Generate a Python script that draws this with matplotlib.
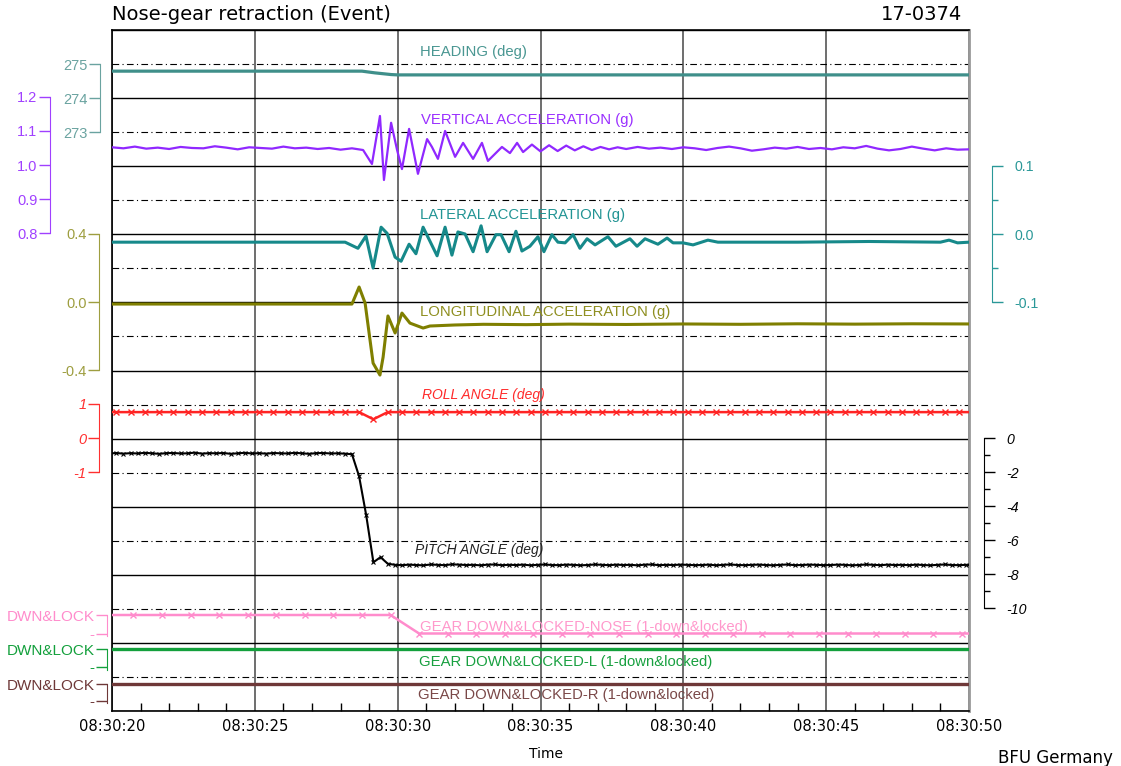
import matplotlib.pyplot as plt
import matplotlib.ticker as mticker
import numpy as np

plt.rcParams['axes.unicode_minus'] = False

# ── data: time in seconds after 08:30:20 ─────────────────────────────────────
hdg_t = [0.0, 8.75, 9.2, 9.77, 10.0, 30.0]
hdg_v = [274.79, 274.79, 274.74, 274.69, 274.68, 274.68]

vac_t = [0.0, 0.4, 0.8, 1.2, 1.6, 2.0, 2.4, 2.8, 3.2, 3.6, 4.0, 4.4, 4.8, 5.2, 5.6,
         6.0, 6.4, 6.8, 7.2, 7.6, 8.0, 8.4, 8.79,
         9.10, 9.38, 9.52, 9.77, 9.98, 10.15, 10.40, 10.71, 11.03, 11.20, 11.41,
         11.66, 12.01, 12.29, 12.64, 12.95, 13.16, 13.65, 13.93, 14.18, 14.39,
         14.7, 15.0, 15.3, 15.6, 15.9, 16.2, 16.5, 16.8, 17.1, 17.4, 17.7, 18.0,
         18.4, 18.8, 19.2, 19.6, 20.0, 20.4, 20.8, 21.2, 21.6, 22.0, 22.4, 22.8,
         23.2, 23.6, 24.0, 24.4, 24.8, 25.2, 25.6, 26.0, 26.4, 26.8, 27.2, 27.6,
         28.0, 28.4, 28.8, 29.2, 29.6, 30.0]
vac_v = [1.052, 1.049, 1.054, 1.048, 1.051, 1.047, 1.053, 1.050, 1.049, 1.055, 1.051,
         1.046, 1.052, 1.050, 1.048, 1.054, 1.049, 1.051, 1.047, 1.050, 1.045, 1.049, 1.044,
         1.003, 1.144, 0.956, 1.124, 1.044, 0.988, 1.106, 0.974, 1.076, 1.053, 1.018,
         1.100, 1.024, 1.065, 1.018, 1.065, 1.012, 1.053, 1.035, 1.065, 1.038,
         1.060, 1.040, 1.058, 1.041, 1.057, 1.043, 1.055, 1.044, 1.053, 1.046, 1.052, 1.047,
         1.053, 1.048, 1.051, 1.047, 1.052, 1.049, 1.044, 1.050, 1.054, 1.049, 1.042, 1.046,
         1.051, 1.048, 1.053, 1.047, 1.050, 1.046, 1.052, 1.049, 1.056, 1.048, 1.043, 1.047,
         1.054, 1.048, 1.043, 1.049, 1.045, 1.046]

lat_t = [0.0, 8.16, 8.61, 8.89, 9.14, 9.42, 9.63, 9.91, 10.12, 10.40, 10.64, 10.89,
         11.38, 11.66, 11.90, 12.11, 12.36, 12.64, 12.92, 13.13, 13.44, 13.62, 13.90,
         14.14, 14.35, 14.63, 14.91, 15.12, 15.40, 15.61, 15.86, 16.14, 16.38, 16.63,
         16.91, 17.36, 17.64, 18.13, 18.38, 18.66, 19.11, 19.43, 19.64, 19.99, 20.34,
         20.86, 21.21, 21.63, 24.0, 26.5, 29.0, 29.3, 29.6, 30.0]
lat_v = [-0.012, -0.012, -0.021, -0.003, -0.050, 0.010, 0.001, -0.034, -0.040, -0.015,
         -0.029, 0.010, -0.032, 0.010, -0.031, 0.003, 0.000, -0.026, 0.012, -0.026,
         -0.001, -0.001, -0.026, 0.004, -0.025, -0.018, -0.004, -0.026, -0.001, -0.012,
         -0.013, -0.001, -0.021, -0.007, -0.016, -0.004, -0.018, -0.007, -0.018, -0.007,
         -0.015, -0.006, -0.013, -0.013, -0.016, -0.009, -0.012, -0.012, -0.012, -0.011,
         -0.012, -0.009, -0.013, -0.012]

lon_t = [0.0, 8.40, 8.65, 8.86, 9.14, 9.38, 9.49, 9.66, 9.91, 10.15, 10.43, 10.89,
         11.13, 12.0, 13.0, 14.5, 16.0, 18.0, 20.0, 22.0, 24.0, 26.0, 28.0, 30.0]
lon_v = [-0.012, -0.012, 0.088, -0.006, -0.359, -0.429, -0.324, -0.082, -0.182,
         -0.065, -0.124, -0.153, -0.141, -0.135, -0.131, -0.133, -0.130, -0.132,
         -0.129, -0.131, -0.128, -0.130, -0.128, -0.129]

# roll sampled at 2 Hz (plus the two frame edges)
roll_t = [0.0] + list(np.arange(0.15, 30, 0.5)) + [30.0]
roll_v = [0.76, 0.76, 0.76, 0.76, 0.76, 0.76, 0.76, 0.76, 0.76, 0.76,
          0.76, 0.76, 0.76, 0.76, 0.76, 0.76, 0.76, 0.76, 0.76, 0.55,
          0.76, 0.76, 0.76, 0.76, 0.76, 0.76, 0.76, 0.76, 0.76, 0.76,
          0.76, 0.76, 0.76, 0.76, 0.76, 0.76, 0.76, 0.76, 0.76, 0.76,
          0.76, 0.76, 0.76, 0.76, 0.76, 0.76, 0.76, 0.76, 0.76, 0.76,
          0.76, 0.76, 0.76, 0.76, 0.76, 0.76, 0.76, 0.76, 0.76, 0.76,
          0.76, 0.76]

# pitch sampled at 4 Hz (plus the two frame edges)
pit_t = [0.0] + list(np.arange(0.15, 30, 0.25)) + [30.0]
pit_v = [-0.90,
         -0.88, -0.92, -0.89, -0.91, -0.87, -0.90, -0.93, -0.89, -0.88, -0.91,
         -0.90, -0.86, -0.92, -0.89, -0.90, -0.88, -0.93, -0.90, -0.87, -0.91,
         -0.89, -0.92, -0.88, -0.90, -0.91, -0.87, -0.90, -0.93, -0.89, -0.88,
         -0.91, -0.90, -0.92,
         -0.95, -2.25, -4.55, -7.30, -7.00, -7.38, -7.45,
         -7.47, -7.44, -7.46, -7.48, -7.43, -7.45, -7.47, -7.42, -7.44, -7.46,
         -7.45, -7.48, -7.44, -7.43, -7.47, -7.45, -7.46, -7.44, -7.48, -7.45,
         -7.43, -7.46, -7.47, -7.44, -7.45, -7.48, -7.46, -7.43, -7.45, -7.47,
         -7.44, -7.46, -7.45, -7.48, -7.44, -7.43, -7.47, -7.45, -7.46, -7.44,
         -7.45, -7.47, -7.46, -7.44, -7.48, -7.45, -7.43, -7.46, -7.47, -7.45,
         -7.44, -7.46, -7.48, -7.45, -7.43, -7.47, -7.46, -7.44, -7.45, -7.47,
         -7.46, -7.44, -7.45, -7.48, -7.46, -7.43, -7.45, -7.47, -7.44, -7.46,
         -7.45, -7.47, -7.44, -7.46, -7.48, -7.45, -7.43, -7.46, -7.47, -7.45,
         -7.46]

# nose gear discrete sampled at 1 Hz
gn_t = [0.0] + list(np.arange(0.75, 30, 1.0)) + [30.0]
gn_v = [1, 1, 1, 1, 1, 1, 1, 1, 1, 1, 1,
        0, 0, 0, 0, 0, 0, 0, 0, 0, 0, 0, 0, 0, 0, 0, 0, 0, 0, 0, 0, 0]
gl_t = [0.0, 30.0]
gl_v = [1, 1]
gr_t = [0.0, 30.0]
gr_v = [1, 1]

# ── layout ───────────────────────────────────────────────────────────────────
W, H, DPI = 1121, 766, 100
X0, X1, Y0, Y1 = 112, 969, 30, 711
BAND = (Y1 - Y0) / 20.0          # one grid band in pixels
PT = 72.0 / DPI                  # pixels -> points

fig = plt.figure(figsize=(W / DPI, H / DPI), dpi=DPI)
rect = [X0 / W, 1 - Y1 / H, (X1 - X0) / W, (Y1 - Y0) / H]

base = fig.add_axes(rect)
base.set_xlim(0, 30)
base.set_ylim(20, 0)
base.xaxis.set_major_locator(mticker.MultipleLocator(5))
base.xaxis.set_minor_locator(mticker.MultipleLocator(1))
base.xaxis.set_major_formatter(mticker.FuncFormatter(lambda x, p: f"08:30:{20 + int(round(x)):02d}"))
base.yaxis.set_major_locator(mticker.MultipleLocator(2))
base.yaxis.set_minor_locator(mticker.MultipleLocator(1))
base.tick_params(axis='y', which='both', left=False, labelleft=False)
base.tick_params(axis='x', which='both', direction='in', top=False)
base.tick_params(axis='x', which='major', length=0, pad=6, labelsize=10.6)
base.tick_params(axis='x', which='minor', length=8 * PT, width=1, color='black')
base.grid(True, which='major', axis='y', color='black', lw=1, ls='-')
base.grid(True, which='minor', axis='y', color='black', lw=0.8, ls=(0, (6, 3, 1, 3)))
base.grid(True, which='major', axis='x', color='#555555', lw=1.2)
for s in ('left', 'top', 'bottom'):
    base.spines[s].set_color('black')
    base.spines[s].set_linewidth(1.2)
base.spines['right'].set_color('#999999')
base.spines['right'].set_linewidth(2)


def u_of(y):
    return (y - Y0) / BAND


def param_axes(v_ref, y_ref, per_band, side, spine_x, bounds, ticks, color,
               labels=None, minor=None, italic=False, fmt=None, size=10.5):
    ax = fig.add_axes(rect, sharex=base)
    ax.patch.set_visible(False)
    u_ref = u_of(y_ref)
    ax.set_ylim(v_ref - (20 - u_ref) * per_band, v_ref + u_ref * per_band)
    ax.tick_params(axis='x', which='both', bottom=False, labelbottom=False)
    for s in ax.spines.values():
        s.set_visible(False)
    sp = ax.spines[side]
    sp.set_visible(True)
    off = (X0 - spine_x) if side == 'left' else (spine_x - X1)
    sp.set_position(('outward', off * PT))
    sp.set_bounds(*bounds)
    sp.set_color(color)
    ax.yaxis.set_ticks_position(side)
    ax.set_yticks(ticks)
    if labels is not None:
        ax.set_yticklabels(labels)
    elif fmt is not None:
        ax.yaxis.set_major_formatter(mticker.FormatStrFormatter(fmt))
    if minor is not None:
        ax.set_yticks(minor, minor=True)
    pad = 1 if side == 'left' else 8
    ax.tick_params(axis='y', which='major', length=11 * PT, width=1, color=color,
                   labelcolor=color, labelsize=size, pad=pad)
    ax.tick_params(axis='y', which='minor', length=6 * PT, width=1, color=color)
    for lab in ax.get_yticklabels():
        lab.set_family('Liberation Sans')
        if italic:
            lab.set_style('italic')
    return ax


c_hdg, c_vac, c_lat, c_lon = '#3f8f8a', '#9028ff', '#16898a', '#7f7f00'
c_roll, c_pit, c_gn, c_gl, c_gr = '#ff2424', '#000000', '#ff8ccc', '#13a03c', '#6e3838'

ax_h = param_axes(275, 64, 1.0, 'left', 100, (273, 275), [273, 274, 275], '#6aa3a0')
ax_h.plot(hdg_t, hdg_v, color=c_hdg, lw=2.3)

ax_v = param_axes(1.0, 165, 0.1, 'left', 50, (0.8, 1.2), [0.8, 0.9, 1.0, 1.1, 1.2],
                  '#a040ff', fmt='%.1f')
ax_v.plot(vac_t, vac_v, color=c_vac, lw=1.6)

ax_l = param_axes(0.0, 234, 0.05, 'right', 992, (-0.1, 0.1), [-0.1, 0.0, 0.1], '#2a9898',
                  minor=[-0.05, 0.05], fmt='%.1f', size=10.2)
ax_l.plot(lat_t, lat_v, color=c_lat, lw=2.2)

ax_g = param_axes(0.0, 302, 0.2, 'left', 99, (-0.4, 0.4), [-0.4, 0.0, 0.4], '#9e9e40',
                  fmt='%.1f')
ax_g.plot(lon_t, lon_v, color=c_lon, lw=2.2)

ax_r = param_axes(0, 438, 1.0, 'left', 99, (-1, 1), [-1, 0, 1], '#ff3030', italic=True)
ax_r.plot(roll_t, roll_v, color=c_roll, lw=1.8, marker='x', ms=4.5, mew=1,
          markevery=slice(1, -1))

ax_p = param_axes(0, 438, 2.0, 'right', 984, (-10, 0), [-10, -8, -6, -4, -2, 0], 'black',
                  minor=[-9, -7, -5, -3, -1], italic=True, size=10.2)
ax_p.plot(pit_t, pit_v, color=c_pit, lw=1.5, marker='x', ms=3.5, mew=0.8,
          markevery=slice(1, -1))

gear = [(gn_t, gn_v, c_gn, 615, 18.5, True),
        (gl_t, gl_v, c_gl, 649, 18.0, False),
        (gr_t, gr_v, c_gr, 684, 16.5, False)]
for t, v, c, y1, px_unit, marks in gear:
    ax_x = param_axes(1, y1, BAND / px_unit, 'left', 107, (-0.15, 1), [0, 1], c,
                      labels=['-', 'DWN&LOCK'], size=11)
    if marks:
        ax_x.plot(t, v, color=c, lw=1.8, marker='x', ms=5, mew=1, markevery=slice(1, -1))
    else:
        ax_x.plot(t, v, color=c, lw=2.4)

# ── parameter names inside the plot ─────────────────────────────────────────
names = [('HEADING (deg)', 420, 52, '#4a9792', 'normal'),
         ('VERTICAL ACCELERATION (g)', 421, 120, '#9a30ff', 'normal'),
         ('LATERAL ACCELERATION (g)', 420, 215, '#229494', 'normal'),
         ('LONGITUDINAL ACCELERATION (g)', 420, 312, '#8f8f20', 'normal'),
         ('ROLL ANGLE (deg)', 422, 395, '#ff2a2a', 'italic'),
         ('PITCH ANGLE (deg)', 415, 550, '#222222', 'italic'),
         ('GEAR DOWN&LOCKED-NOSE (1-down&locked)', 420, 627, '#ff99cc', 'normal'),
         ('GEAR DOWN&LOCKED-L (1-down&locked)', 419, 662, '#18a040', 'normal'),
         ('GEAR DOWN&LOCKED-R (1-down&locked)', 418, 695, '#7a4848', 'normal')]
for txt, x, y, c, st in names:
    base.text((x - X0) / (X1 - X0) * 30, u_of(y), txt, color=c, style=st,
              fontsize=10 if st == 'italic' else 10.7,
              family='Liberation Sans', va='center', ha='left')

fig.text(X0 / W, 1 - 15 / H, 'Nose-gear retraction (Event)', fontsize=14, va='center')
fig.text(962 / W, 1 - 15 / H, '17-0374', fontsize=14, va='center', ha='right')
fig.text(546 / W, 1 - 754 / H, 'Time', fontsize=10, va='center', ha='center')
fig.text(1113 / W, 1 - 758 / H, 'BFU Germany', fontsize=12, va='center', ha='right')

fig.savefig('out.png', dpi=DPI)
